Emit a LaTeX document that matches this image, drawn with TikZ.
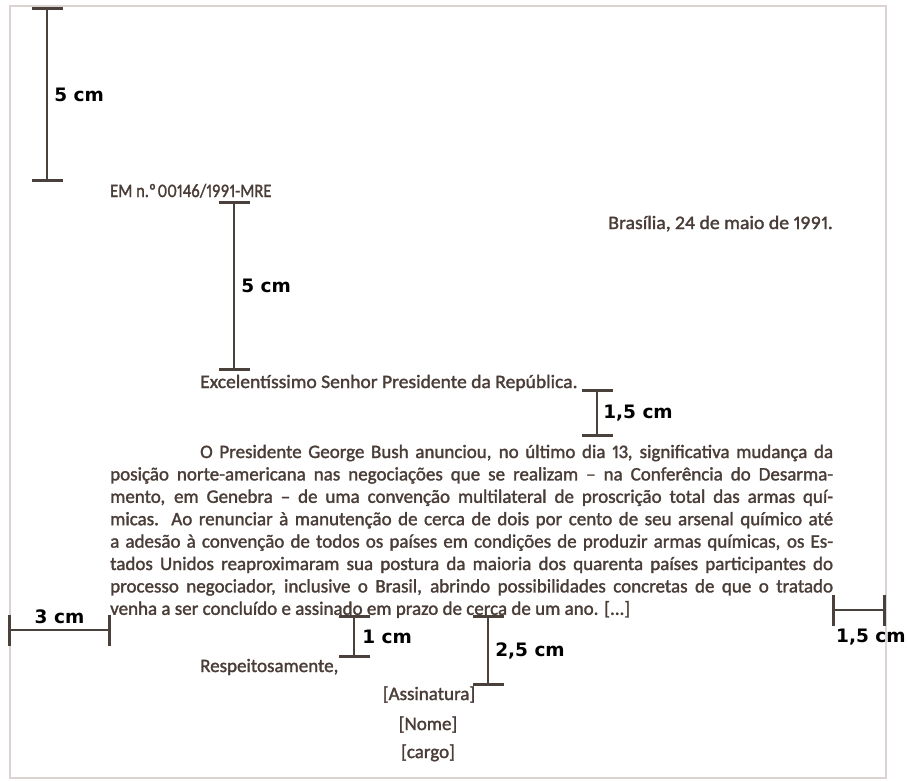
\documentclass[tikz,border=0pt]{standalone}
\usepackage{fontspec}
\setmainfont{Carlito}[FakeBold=1.6, Numbers=Proportional]
\newfontfamily\labelfont{DejaVu Sans}
\usepackage{xcolor}
\usetikzlibrary{arrows.meta,positioning}
\definecolor{inkbrown}{HTML}{4A3D38}
\definecolor{barcol}{HTML}{4A403C}
\definecolor{pageline}{HTML}{DAD3CF}
\tikzset{
	txt/.style={inner sep=0pt, text=inkbrown, font=\fontsize{19}{22}\selectfont},
	dimlabel/.style={inner sep=0pt, text=black, font=\labelfont\bfseries\fontsize{18.5}{20}\selectfont},
	dimbar/.style={{Bar[width=31pt]}-{Bar[width=31pt]}, line width=2.6pt, draw=barcol},
	page/.style={draw=pageline, line width=2pt}
}
\begin{document}
\begin{tikzpicture}[x=1pt, y=-1pt]
	\useasboundingbox (0,0) rectangle (908,780);
	\draw[page] (10,6) rectangle (886,778);
	% letter text
	\node[txt, anchor=base west] (em) at (110,197) {\scalebox{0.87}[1]{EM n.º\kern2pt 00146/1991-MRE}};
	\node[txt, anchor=base east] (date) at (833,229) {\scalebox{1.04}[1]{Brasília, 24 de maio de 1991.}};
	\node[txt, anchor=base west] (vocativo) at (200,388) {\scalebox{1.03}[1]{Excelentíssimo Senhor Presidente da República.}};
	\node[txt, anchor=base west] (l1) at (200,458) {\makebox[633pt][s]{O Presidente George Bush anunciou, no último dia 13, significativa mudança da}};
	\node[txt, anchor=base west] (l2) at (110,480.4) {\makebox[723pt][s]{posição norte-americana nas negociações que se realizam – na Conferência do Desarma-}};
	\node[txt, anchor=base west] (l3) at (110,502.8) {\makebox[723pt][s]{mento, em Genebra – de uma convenção multilateral de proscrição total das armas quí-}};
	\node[txt, anchor=base west] (l4) at (110,525.2) {\makebox[723pt][s]{micas. Ao renunciar à manutenção de cerca de dois por cento de seu arsenal químico até}};
	\node[txt, anchor=base west] (l5) at (110,547.6) {\makebox[723pt][s]{a adesão à convenção de todos os países em condições de produzir armas químicas, os Es-}};
	\node[txt, anchor=base west] (l6) at (110,570) {\makebox[723pt][s]{tados Unidos reaproximaram sua postura da maioria dos quarenta países participantes do}};
	\node[txt, anchor=base west] (l7) at (110,592.4) {\makebox[723pt][s]{processo negociador, inclusive o Brasil, abrindo possibilidades concretas de que o tratado}};
	\node[txt, anchor=base west] (l8) at (110,614.8) {venha a ser concluído e assinado em prazo de cerca de um ano. [...]};
	\node[txt, anchor=base west] (fecho) at (200,672) {Respeitosamente,};
	\node[txt, anchor=base] (assin) at (429,700) {[Assinatura]};
	\node[txt, anchor=base] (nome) at (428,730) {[Nome]};
	\node[txt, anchor=base] (cargo) at (428,758) {[cargo]};
	% measure points
	\coordinate (m1a) at (47,7);
	\coordinate (m1b) at (47,182);
	\coordinate (m2a) at (234,201);
	\coordinate (m2b) at (234,371);
	\coordinate (m3a) at (597,389);
	\coordinate (m3b) at (597,437);
	\coordinate (m4a) at (8,630);
	\coordinate (m4b) at (111,630);
	\coordinate (m5a) at (354,615);
	\coordinate (m5b) at (354,658);
	\coordinate (m6a) at (488,615);
	\coordinate (m6b) at (488,686);
	\coordinate (m7a) at (832,610);
	\coordinate (m7b) at (886,610);
	\draw[dimbar] (m1a) -- node[dimlabel, right=6pt] {5 cm} (m1b);
	\draw[dimbar] (m2a) -- node[dimlabel, right=6pt] {5 cm} (m2b);
	\draw[dimbar] (m3a) -- node[dimlabel, right=5pt] {1,5 cm} (m3b);
	\draw[dimbar] (m4a) -- node[dimlabel, above=5pt] {3 cm} (m4b);
	\draw[dimbar] (m5a) -- node[dimlabel, right=7pt] {1 cm} (m5b);
	\draw[dimbar] (m6a) -- node[dimlabel, right=6pt] {2,5 cm} (m6b);
	\draw[dimbar] (m7a) -- (m7b);
	\node[dimlabel, below right=19pt and 4pt of m7a] (lab7) {1,5 cm};
\end{tikzpicture}
\end{document}
